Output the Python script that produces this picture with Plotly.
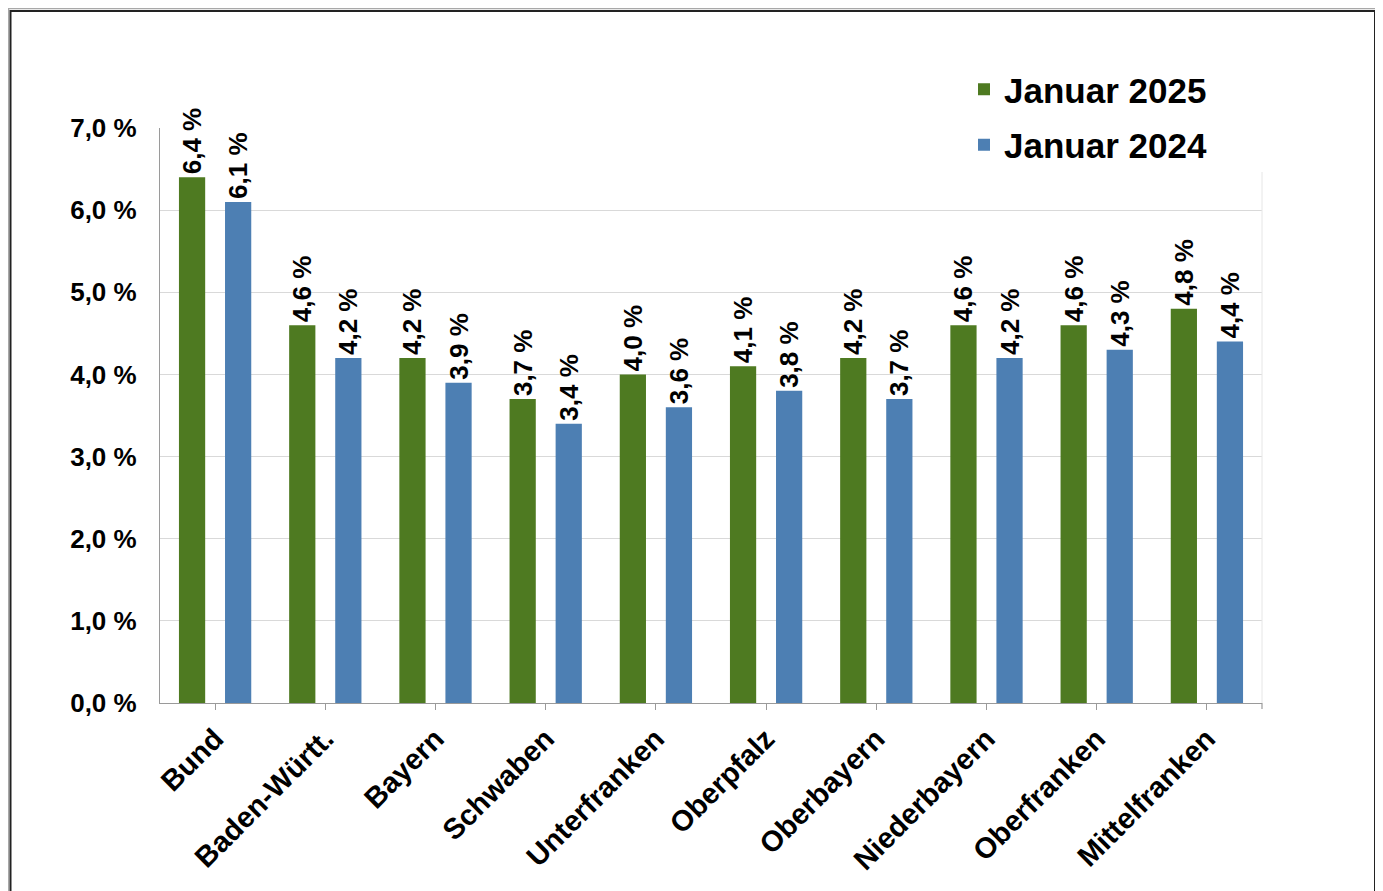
import plotly.graph_objects as go

categories = ["Bund", "Baden-Württ.", "Bayern", "Schwaben", "Unterfranken",
              "Oberpfalz", "Oberbayern", "Niederbayern", "Oberfranken", "Mittelfranken"]
jan_2025 = [6.4, 4.6, 4.2, 3.7, 4.0, 4.1, 4.2, 4.6, 4.6, 4.8]
jan_2024 = [6.1, 4.2, 3.9, 3.4, 3.6, 3.8, 3.7, 4.2, 4.3, 4.4]
y_ticks = [0, 1, 2, 3, 4, 5, 6, 7]

def fmt(v):
    return f"{v:.1f} %".replace(".", ",")

FONT = "Liberation Sans, Arial, sans-serif"
OFF = 8  # page body margin offset

BAR_W = 0.238      # bar width in category units
BAR_GAP = 0.18     # gap between the two bars in a group, category units

fig = go.Figure()
fig.add_trace(go.Bar(
    x=categories, y=jan_2025, name="Januar 2025", legendgroup="a",
    width=BAR_W, offset=-BAR_W - BAR_GAP / 2,
    marker=dict(color="#4e7a21", line=dict(width=0)),
    text=[fmt(v) for v in jan_2025], textposition="outside", textangle=-90,
    constraintext="none",
    textfont=dict(family=FONT, size=26, color="black", weight="bold"),
    cliponaxis=False,
))
fig.add_trace(go.Bar(
    x=categories, y=jan_2024, name="Januar 2024", legendgroup="b",
    width=BAR_W, offset=BAR_GAP / 2,
    marker=dict(color="#4d7fb3", line=dict(width=0)),
    text=[fmt(v) for v in jan_2024], textposition="outside", textangle=-90,
    constraintext="none",
    textfont=dict(family=FONT, size=26, color="black", weight="bold"),
    cliponaxis=False,
))

W, H = 1383 - OFF, 891 - OFF
L = 160 - OFF
T = 128 - OFF
R = W - (1262 - OFF)
B = H - (703 - OFF)
pw, ph = W - L - R, H - T - B

def px_x(px):
    return (px - OFF - L) / pw

def px_y(py):
    return (H - B - (py - OFF)) / ph

shapes = [
    dict(type="rect", xref="paper", yref="paper", layer="between",
         x0=px_x(905), x1=1.0, y0=px_y(172), y1=1.01,
         fillcolor="white", line=dict(width=0)),
    dict(type="line", xref="paper", yref="paper", x0=1, x1=1,
         y0=0, y1=px_y(172), line=dict(color="#e6e6e6", width=1)),
    dict(type="line", xref="paper", yref="paper", x0=1, x1=1,
         y0=0, y1=px_y(709), line=dict(color="#9a9a9a", width=1.2)),
    dict(type="rect", xref="paper", yref="paper",
         x0=px_x(8.5), x1=px_x(1378), y0=px_y(900), y1=px_y(8.5),
         line=dict(color="#a8a8a8", width=1.5), fillcolor="rgba(0,0,0,0)"),
    dict(type="rect", xref="paper", yref="paper",
         x0=px_x(10.5), x1=px_x(1375), y0=px_y(900), y1=px_y(11),
         line=dict(color="#222222", width=2), fillcolor="rgba(0,0,0,0)"),
]

fig.update_layout(
    width=W, height=H,
    margin=dict(l=L, r=R, t=T, b=B, autoexpand=False),
    paper_bgcolor="white", plot_bgcolor="white",
    barmode="group",
    font=dict(family=FONT, color="black"),
    showlegend=True,
    legend=dict(x=px_x(964), y=px_y(60), xanchor="left", yanchor="top",
                bgcolor="rgba(255,255,255,0)", borderwidth=0,
                font=dict(family=FONT, size=35, color="black", weight="bold"),
                traceorder="grouped", tracegroupgap=7),
    shapes=shapes,
)
fig.update_xaxes(
    showline=True, linecolor="#9a9a9a", linewidth=1.2,
    ticks="outside", ticklen=6, tickcolor="#9a9a9a", tickwidth=1.2,
    tickangle=-45, showgrid=False,
    tickfont=dict(family=FONT, size=29, color="black", weight="bold"),
)
fig.update_yaxes(
    range=[0, 7], tickvals=y_ticks, ticktext=[fmt(v) for v in y_ticks],
    showline=True, linecolor="#9a9a9a", linewidth=1.2,
    showgrid=True, gridcolor="#d9d9d9", gridwidth=1, zeroline=False,
    ticks="", ticklabelstandoff=17,
    tickfont=dict(family=FONT, size=26, color="black", weight="bold"),
)

fig.write_html("out.html")
